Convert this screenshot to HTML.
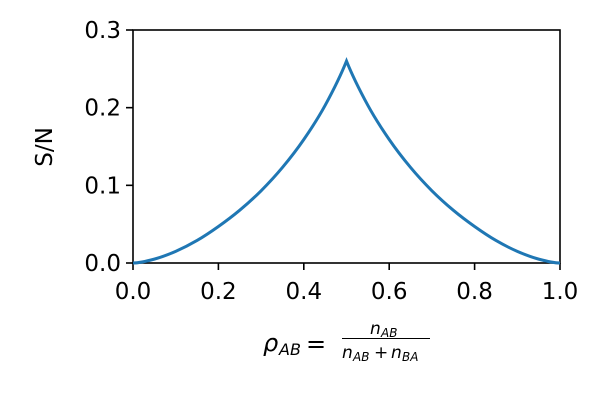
<!DOCTYPE html>
<html><head><meta charset="utf-8"><style>
body{margin:0;background:#fff;}
svg text{font-family:"DejaVu Sans","Liberation Sans",sans-serif;fill:#000;}
</style></head><body>
<svg id="chart" width="600" height="400" viewBox="0 0 600 400">
<g id="axes"></g>
<g id="series"></g>
</svg>
<script>
const xValues=[0,0.05,0.1,0.15,0.2,0.25,0.3,0.35,0.4,0.45,0.5,0.55,0.6,0.65,0.7,0.75,0.8,0.85,0.9,0.95,1.0];
const snValues=[0,0.005,0.015,0.029,0.047,0.068,0.093,0.123,0.159,0.203,0.26,0.203,0.159,0.123,0.093,0.068,0.047,0.029,0.015,0.005,0];
const xTicks=[0,0.2,0.4,0.6,0.8,1.0];
const xTickLabels=["0.0","0.2","0.4","0.6","0.8","1.0"];
const yTicks=[0,0.1,0.2,0.3];
const yTickLabels=["0.0","0.1","0.2","0.3"];

const L=133,R=560,T=30,B=263;
const sx=v=>L+(v-0)/(1-0)*(R-L);
const sy=v=>B-(v-0)/(0.3-0)*(B-T);
const NS="http://www.w3.org/2000/svg";
function mk(tag,attrs,parent){const e=document.createElementNS(NS,tag);for(const k in attrs)e.setAttribute(k,attrs[k]);parent.appendChild(e);return e;}
const axes=document.getElementById('axes'),series=document.getElementById('series');

let pk=0;snValues.forEach((v,i)=>{if(v>snValues[pk])pk=i;});
const pts=xValues.map((x,i)=>[sx(x),sy(snValues[i])]);
function tangent(i){
  if(i===0)return [pts[1][0]-pts[0][0],0];
  if(i===pts.length-1)return [pts[i][0]-pts[i-1][0],0];
  return [(pts[i+1][0]-pts[i-1][0])/2,(pts[i+1][1]-pts[i-1][1])/2];
}
let d="M"+pts[0][0]+","+pts[0][1];
for(let i=0;i<pts.length-1;i++){
  const p1=pts[i],p2=pts[i+1];
  let t1=tangent(i),t2=tangent(i+1);
  if(i===pk){t1=[p2[0]-p1[0],(p2[1]-p1[1])*1.2];}
  if(i+1===pk){t2=[p2[0]-p1[0],(p2[1]-p1[1])*1.2];}
  const c1=[p1[0]+t1[0]/3,p1[1]+t1[1]/3];
  const c2=[p2[0]-t2[0]/3,p2[1]-t2[1]/3];
  d+=" C"+c1[0]+","+c1[1]+" "+c2[0]+","+c2[1]+" "+p2[0]+","+p2[1];
}
const line=mk('path',{d:d,fill:'none',stroke:'#1f77b4','stroke-width':3,'stroke-linejoin':'miter'},series);



const frame=mk('rect',{x:L,y:T,width:R-L,height:B-T,fill:'none',stroke:'#000','stroke-width':1.6},axes);



xTicks.forEach((v,i)=>{
  const x=sx(v);
  const tk=mk('line',{x1:x,x2:x,y1:B,y2:B+7,stroke:'#000','stroke-width':1.6},axes);
  
  
  const tl=mk('text',{x:x,y:B+36,'text-anchor':'middle','font-size':23},axes);
  tl.textContent=xTickLabels[i];
  
  
});
yTicks.forEach((v,i)=>{
  const y=sy(v);
  const tk=mk('line',{x1:L-7,x2:L,y1:y,y2:y,stroke:'#000','stroke-width':1.6},axes);
  
  
  const tl=mk('text',{x:L-12,y:y+8,'text-anchor':'end','font-size':23},axes);
  tl.textContent=yTickLabels[i];
  
  
});
</script>
<svg width="600" height="400" style="position:absolute;left:0;top:0">
<text x="52" y="147" font-size="23" text-anchor="middle" transform="rotate(-90 52 147)" style="font-family:'DejaVu Sans','Liberation Sans',sans-serif">S/N</text>
<g style="font-family:'DejaVu Sans','Liberation Sans',sans-serif">
<text x="263" y="351" font-size="24" font-style="italic">ρ</text>
<text x="279" y="355" font-size="16" font-style="italic">AB</text>
<text x="306" y="352" font-size="24">=</text>
<text x="370" y="334" font-size="17" font-style="italic">n</text>
<text x="381" y="337" font-size="12" font-style="italic">AB</text>
<line x1="342" x2="430" y1="338.5" y2="338.5" stroke="#000" stroke-width="1"/>
<text x="342" y="358" font-size="17" font-style="italic">n</text>
<text x="353" y="361" font-size="12" font-style="italic">AB</text>
<text x="374" y="358" font-size="17">+</text>
<text x="391" y="358" font-size="17" font-style="italic">n</text>
<text x="402" y="361" font-size="12" font-style="italic">BA</text>
</g>
</svg>
</body></html>
